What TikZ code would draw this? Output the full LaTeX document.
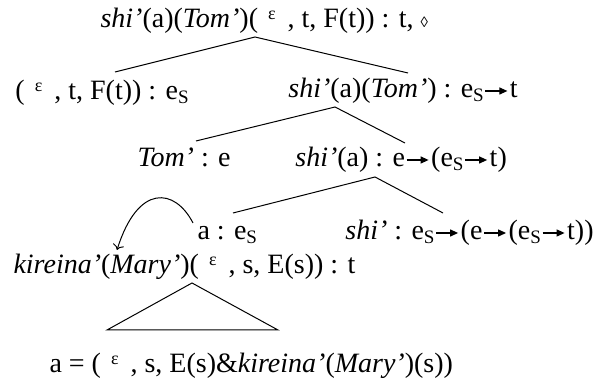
\documentclass[tikz,border=0pt]{standalone}
\usepackage{fontspec}
\setmainfont{Liberation Serif}
\usetikzlibrary{arrows.meta}
\newcommand{\epsl}{\hspace{5pt}\raisebox{4pt}{\fontsize{9}{9}\selectfont ε}\hspace{6pt}}
\newcommand{\eS}{e\raisebox{-2pt}{\fontsize{9.5}{9.5}\selectfont S}}
\newcommand{\tto}{\hspace{0.5pt}\tikz[baseline=-3.5pt]\draw[line width=0.6pt,-{Triangle[length=4pt,width=3.5pt]}] (0,0) -- (11pt,0);\hspace{1pt}}
\newcommand{\dmd}{{\fontsize{7.5}{8}\selectfont ◊}}

\begin{document}
\begin{tikzpicture}[x=0.5pt,y=-0.5pt,line width=0.5pt,
  term/.style={anchor=base west,inner sep=0pt,font=\fontsize{14}{17}\selectfont}]
\useasboundingbox (0,0) rectangle (610,383);
% tree nodes
\node[term] (root) at (100,28) {\textit{shi’}(a)(\textit{Tom’})(\epsl, t, F(t)) : t, \dmd};
\node[term] (subj) at (15,100) {(\epsl, t, F(t)) : \eS};
\node[term] (pred) at (288,98) {\textit{shi’}(a)(\textit{Tom’}) : \eS\tto t};
\node[term] (tom) at (137,167) {\textit{Tom’} : e};
\node[term] (shia) at (295,167) {\textit{shi’}(a) : e\tto(\eS\tto t)};
\node[term] (a) at (197,240) {a : \eS};
\node[term] (shi) at (345,240) {\textit{shi’} : \eS\tto(e\tto(\eS\tto t))};
\node[term] (kir) at (13,274) {\textit{kireina’}(\textit{Mary’})(\epsl, s, E(s)) : t};
\node[term] (aeq) at (49,373) {a = (\epsl, s, E(s)\&\textit{kireina’}(\textit{Mary’})(s))};

% branch ends
\coordinate (root-b) at (255,37);
\coordinate (subj-t) at (115,72);
\coordinate (pred-t) at (408,73);
\coordinate (pred-b) at (335,107);
\coordinate (tom-t) at (196,141);
\coordinate (shia-t) at (405,143);
\coordinate (shia-b) at (375,177);
\coordinate (a-t) at (233,213);
\coordinate (shi-t) at (443,213);
\coordinate (a-w) at (193,223);
\coordinate (kir-t) at (117,250);
\coordinate (kir-b) at (192,283);
\coordinate (tri-l) at (107,330);
\coordinate (tri-r) at (278,330);

\draw (subj-t) -- (root-b) -- (pred-t);
\draw (tom-t) -- (pred-b) -- (shia-t);
\draw (a-t) -- (shia-b) -- (shi-t);
\draw[->] (a-w) .. controls (175,188) and (138,183) .. (kir-t);
\draw (kir-b) -- (tri-l) -- (tri-r) -- cycle;
\end{tikzpicture}
\end{document}
